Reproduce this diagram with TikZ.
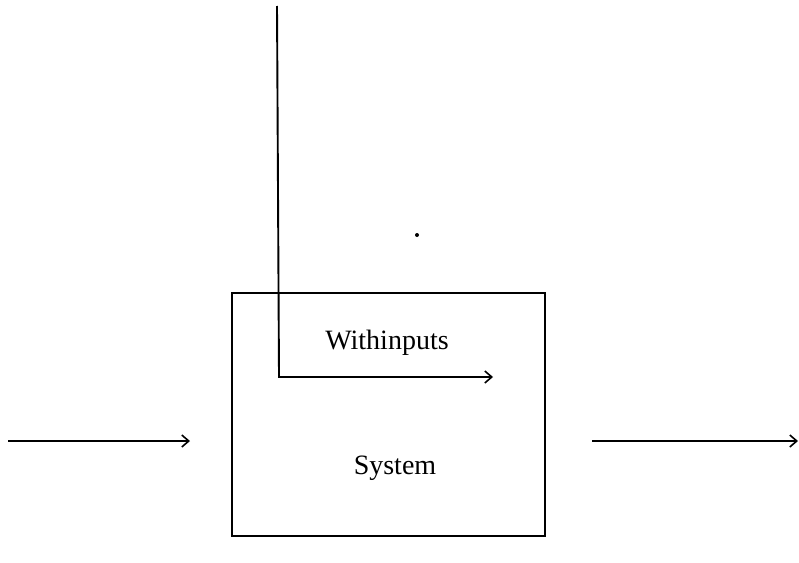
\documentclass[tikz,border=0pt]{standalone}
\usepackage{fontspec}
\setmainfont{Liberation Serif}
\usetikzlibrary{arrows.meta}
\begin{document}
\begin{tikzpicture}[x=1pt,y=-1pt,
  line/.style={line width=2pt},
  arr/.style={line width=1.9pt,-{Straight Barb[length=7pt,width=12pt,line width=1.6pt]}},
  lbl/.style={font=\fontsize{28}{32}\selectfont,inner sep=0pt}]
\useasboundingbox (0,0) rectangle (799,562);
\draw[line] (232,293) rectangle (545,536);
\coordinate (top) at (277,6);
\coordinate (corner) at (279,377);
\coordinate (wend) at (493,377);
\draw[arr] (top) -- (corner) -- (wend);
\coordinate (l1) at (8,441);
\coordinate (l2) at (190,441);
\draw[arr] (l1) -- (l2);
\coordinate (r1) at (592,441);
\coordinate (r2) at (798,441);
\draw[arr] (r1) -- (r2);
\node[lbl] (w) at (387,343) {Withinputs};
\node[lbl] (s) at (395,468) {System};
\fill (417,235) circle (2pt);
\end{tikzpicture}
\end{document}
